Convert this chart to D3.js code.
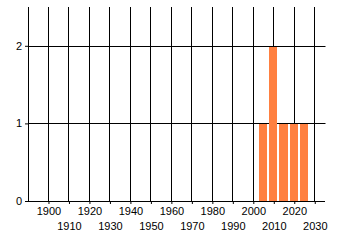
<!DOCTYPE html>
<html>
<head>
<meta charset="utf-8">
<script src="https://cdn.jsdelivr.net/npm/d3@7"></script>
<style>
  body { margin: 0; background: #fff; }
  svg { display: block; }
</style>
</head>
<body>
<svg id="chart" width="340" height="245"></svg>
<script>
// bins of 5 years, start year of each bar and count
const binStarts = [2002, 2007, 2012, 2017, 2022];
const counts = [1, 2, 1, 1, 1];
const binWidth = 5;
const xTicks = [1900, 1910, 1920, 1930, 1940, 1950, 1960, 1970, 1980, 1990, 2000, 2010, 2020, 2030];
const yTicks = [0, 1, 2];

const width = 340, height = 245;
const svg = d3.select("#chart");

const x = d3.scaleLinear().domain([1890, 2035]).range([28.5, 325.5]);
const y = d3.scaleLinear().domain([0, 2.5]).range([201, 7]);

const font = "11px 'Liberation Sans', Arial, sans-serif";

// grid lines
var grid = svg.append("g").attr("stroke", "#000").attr("stroke-width", 1);
grid.selectAll(".vg")
    .data([1890].concat(xTicks))
    .enter().append("line")
    .attr("x1", d => Math.round(x(d)) - 0.5)
    .attr("x2", d => Math.round(x(d)) - 0.5)
    .attr("y1", y(2.5))
    .attr("y2", y(0));
grid.selectAll(".hg")
    .data(yTicks.filter(d => d > 0))
    .enter().append("line")
    .attr("x1", x(1890))
    .attr("x2", x(2035))
    .attr("y1", d => Math.round(y(d)) + 0.5)
    .attr("y2", d => Math.round(y(d)) + 0.5);

// bars
svg.append("g").selectAll("rect")
    .data(counts)
    .enter().append("rect")
    .attr("x", (d, i) => Math.round(x(binStarts[i])) + 1)
    .attr("width", (d, i) => Math.round(x(binStarts[i] + binWidth)) - Math.round(x(binStarts[i])) - 2)
    .attr("y", d => Math.round(y(d)) + 1)
    .attr("height", d => Math.round(y(0)) - Math.round(y(d)) - 1)
    .attr("fill", "#ff8040");

// x axis
var xAxis = d3.axisBottom(x)
    .tickValues(xTicks)
    .tickFormat(d3.format("d"))
    .tickSizeInner(3)
    .tickSizeOuter(0);
var gx = svg.append("g")
    .attr("transform", "translate(-0.5," + Math.round(y(0)) + ")")
    .call(xAxis);
gx.selectAll(".tick text")
    .attr("dy", (d, i) => (i % 2 ? 15 : 0) + 8);

// y axis
var yAxis = d3.axisLeft(y)
    .tickValues(yTicks)
    .tickFormat(d3.format("d"))
    .tickSizeInner(3)
    .tickSizeOuter(0);
var gy = svg.append("g")
    .attr("transform", "translate(" + (Math.round(x(1890)) - 1) + ",0)")
    .call(yAxis);
gy.select(".domain").remove();
gx.select(".domain").attr("d", "M" + (x(1890) - 3) + ",0.5H" + x(2035));

svg.selectAll(".tick text").style("font", font).attr("fill", "#000");
svg.selectAll(".tick line").attr("stroke", "#000");
gx.select(".domain").attr("stroke", "#000");
</script>
</body>
</html>
